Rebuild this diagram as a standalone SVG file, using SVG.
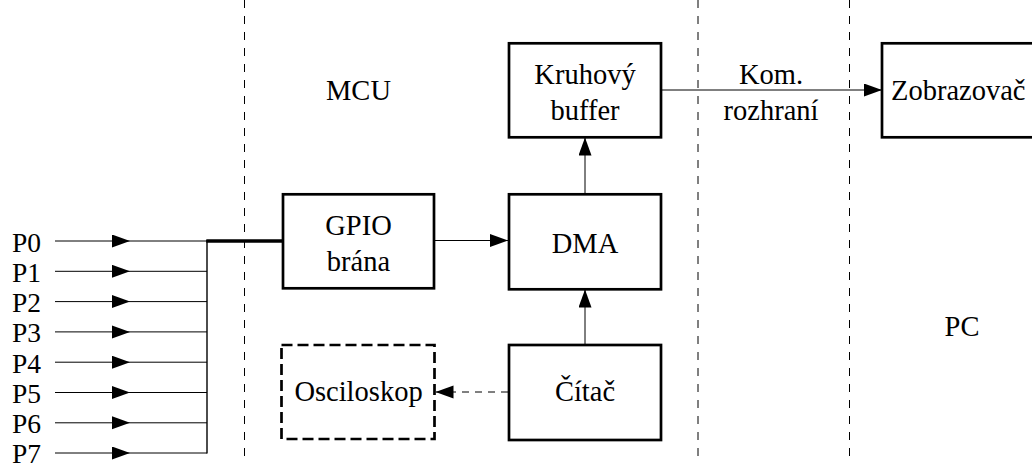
<svg xmlns="http://www.w3.org/2000/svg" width="1032" height="464" viewBox="0 0 1032 464">
<defs>
<style>
text{font-family:"Liberation Serif","DejaVu Serif",serif;font-size:28.5px;fill:#000}
.c{text-anchor:middle}
.p{font-size:27.5px}
.box{fill:#fff;stroke:#000;stroke-width:2.7}
.dbox{fill:#fff;stroke:#000;stroke-width:2.7;stroke-dasharray:11 5}
.ln{stroke:#000;stroke-width:1;fill:none}
.sep{stroke:#000;stroke-width:1;stroke-dasharray:8 8;fill:none}
</style>
<marker id="ah" markerUnits="userSpaceOnUse" markerWidth="19" markerHeight="14" refX="18" refY="6.5" orient="auto">
<path d="M0,0 L18,6.5 L0,13 z" fill="#000"/>
</marker>
</defs>
<g id="separators">
<line class="sep" x1="244.5" y1="0" x2="244.5" y2="464"/>
<line class="sep" x1="698" y1="0" x2="698" y2="464"/>
<line class="sep" x1="849.5" y1="0" x2="849.5" y2="464"/>
</g>
<g id="zones">
<text class="c" x="358.5" y="100">MCU</text>
<text class="c" x="962" y="336">PC</text>
</g>
<g id="connectors">
<line class="ln" x1="55" y1="241" x2="130" y2="241" marker-end="url(#ah)"/>
<line class="ln" x1="130" y1="241" x2="207" y2="241"/>
<line class="ln" x1="55" y1="271.3" x2="130" y2="271.3" marker-end="url(#ah)"/>
<line class="ln" x1="130" y1="271.3" x2="207" y2="271.3"/>
<line class="ln" x1="55" y1="301.6" x2="130" y2="301.6" marker-end="url(#ah)"/>
<line class="ln" x1="130" y1="301.6" x2="207" y2="301.6"/>
<line class="ln" x1="55" y1="331.9" x2="130" y2="331.9" marker-end="url(#ah)"/>
<line class="ln" x1="130" y1="331.9" x2="207" y2="331.9"/>
<line class="ln" x1="55" y1="362.2" x2="130" y2="362.2" marker-end="url(#ah)"/>
<line class="ln" x1="130" y1="362.2" x2="207" y2="362.2"/>
<line class="ln" x1="55" y1="392.5" x2="130" y2="392.5" marker-end="url(#ah)"/>
<line class="ln" x1="130" y1="392.5" x2="207" y2="392.5"/>
<line class="ln" x1="55" y1="422.8" x2="130" y2="422.8" marker-end="url(#ah)"/>
<line class="ln" x1="130" y1="422.8" x2="207" y2="422.8"/>
<line class="ln" x1="55" y1="453" x2="130" y2="453" marker-end="url(#ah)"/>
<line class="ln" x1="130" y1="453" x2="207" y2="453"/>
<line x1="207" y1="240" x2="207" y2="453.5" stroke="#000" stroke-width="1.4"/>
<line x1="206.3" y1="241" x2="283" y2="241" stroke="#000" stroke-width="3.5"/>
<line class="ln" x1="434" y1="240.5" x2="508" y2="240.5" marker-end="url(#ah)"/>
<line class="ln" x1="585" y1="194" x2="585" y2="137.5" marker-end="url(#ah)"/>
<line class="ln" x1="585" y1="345" x2="585" y2="289.5" marker-end="url(#ah)"/>
<line class="ln" x1="662" y1="90" x2="882" y2="90" marker-end="url(#ah)"/>
<line class="ln" x1="508" y1="392" x2="435.5" y2="392" stroke-dasharray="7 6" marker-end="url(#ah)"/>
<text class="c" x="771" y="84">Kom.</text>
<text class="c" x="771" y="120">rozhraní</text>
</g>
<g id="inputs">
<text class="p" x="12" y="251.5">P0</text>
<text class="p" x="12" y="281.8">P1</text>
<text class="p" x="12" y="312.1">P2</text>
<text class="p" x="12" y="342.4">P3</text>
<text class="p" x="12" y="372.7">P4</text>
<text class="p" x="12" y="403">P5</text>
<text class="p" x="12" y="433.3">P6</text>
<text class="p" x="12" y="462.5">P7</text>
</g>
<g id="gpio">
<rect class="box" x="283" y="194.3" width="151" height="94"/>
<text class="c" x="358.5" y="235">GPIO</text>
<text class="c" x="358.5" y="270.5">brána</text>
</g>
<g id="dma">
<rect class="box" x="509" y="194.3" width="152" height="95"/>
<text class="c" x="585" y="252.5">DMA</text>
</g>
<g id="buffer">
<rect class="box" x="509" y="43.3" width="152" height="94"/>
<text class="c" x="585" y="84">Kruhový</text>
<text class="c" x="585" y="120">buffer</text>
</g>
<g id="citac">
<rect class="box" x="509" y="345" width="152" height="95"/>
<text class="c" x="585" y="400.5">Čítač</text>
</g>
<g id="osciloskop">
<rect class="dbox" x="281.5" y="345" width="153" height="94"/>
<text class="c" x="358.5" y="400.5">Osciloskop</text>
</g>
<g id="zobrazovac">
<rect class="box" x="882" y="43.3" width="170" height="94"/>
<text x="891" y="100">Zobrazovač</text>
</g>
</svg>
